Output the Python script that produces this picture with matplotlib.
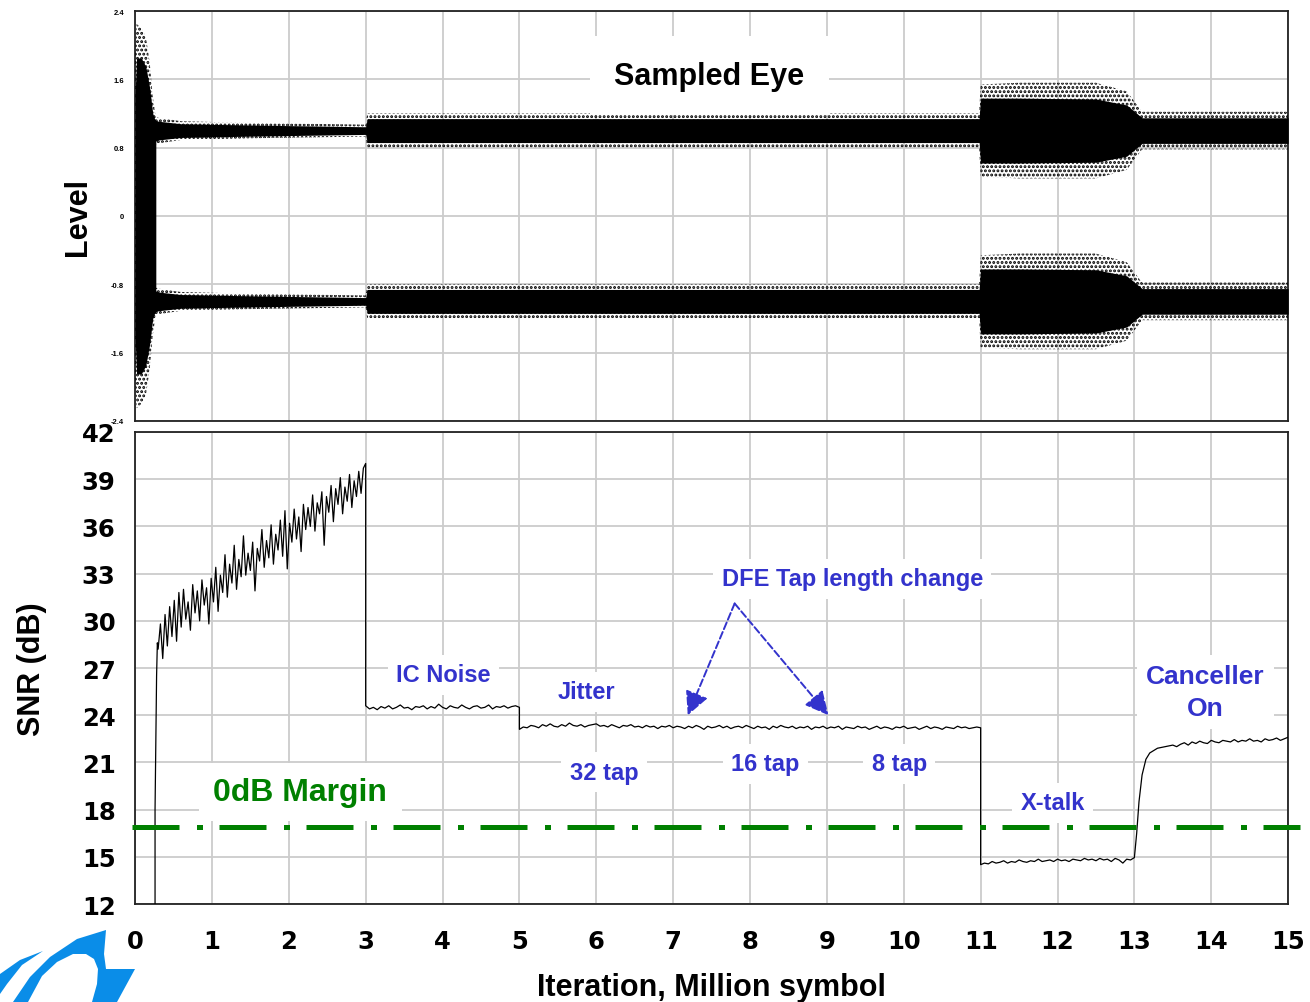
import numpy as np
import matplotlib
matplotlib.use("Agg")
import matplotlib.pyplot as plt
from matplotlib.patches import Polygon

plt.rcParams['font.family'] = ['Liberation Sans', 'DejaVu Sans']
plt.rcParams['font.weight'] = 'bold'
plt.rcParams['hatch.linewidth'] = 1.4

BLUE = '#3333cc'
GREEN = '#008000'
GRID = '#cccccc'

# ---- sampled eye envelopes ----
# start-up burst, half height of the scattered column
burst_x = [0.0, 0.02, 0.08, 0.14, 0.19, 0.23, 0.27]
burst_outer = [1.9, 2.25, 2.2, 2.1, 1.8, 1.4, 1.15]
burst_core = [1.4, 1.85, 1.85, 1.75, 1.5, 1.2, 1.1]

# eye bands around +1 and -1
eye_x = [0.25, 0.3, 0.6, 1.5, 2.98, 3.0, 3.02, 10.98, 11.0, 11.5, 12.5, 12.9, 13.1, 15.0]
eye_core = [0.13, 0.11, 0.08, 0.065, 0.045, 0.045, 0.14, 0.14, 0.38, 0.38, 0.37, 0.3, 0.15, 0.15]
eye_outer = [0.17, 0.15, 0.11, 0.09, 0.07, 0.07, 0.2, 0.2, 0.54, 0.56, 0.56, 0.46, 0.22, 0.22]
eye_levels = [1.0, -1.0]

# ---- SNR trace ----
start_x = [0.26, 0.26, 0.27, 0.28, 0.29]
start_y = [12.0, 18.0, 22.5, 26.5, 28.6]

ramp_y = [28.2, 29.8, 27.6, 30.4, 28.4, 30.9, 29.0, 31.3, 28.7, 31.8,
          29.6, 32.0, 30.1, 31.2, 29.4, 32.3, 30.5, 31.9, 30.0, 32.6,
          31.0, 32.1, 29.8, 32.7, 31.2, 33.4, 30.6, 32.9, 31.8, 34.2,
          31.5, 33.6, 32.4, 34.8, 32.0, 33.9, 32.8, 35.4, 32.9, 34.3,
          33.2, 35.0, 31.9, 34.6, 33.8, 35.8, 33.4, 35.1, 34.0, 36.1,
          33.6, 35.5, 34.5, 36.4, 34.1, 37.0, 33.3, 36.2, 35.0, 37.1,
          35.2, 36.6, 34.4, 37.4, 35.8, 37.2, 36.0, 38.0, 35.7, 37.5,
          36.8, 38.2, 34.8, 37.9, 36.9, 38.6, 36.3, 38.4, 37.4, 39.1,
          36.8, 38.5, 37.6, 39.3, 37.2, 38.9, 37.9, 39.5, 38.1, 39.7]
ramp_x = np.linspace(0.30, 2.97, len(ramp_y))

ic_noise = [24.6, 24.4, 24.5, 24.35, 24.55, 24.45, 24.6, 24.4, 24.5, 24.65,
            24.45, 24.5, 24.35, 24.55, 24.5, 24.6, 24.4, 24.55, 24.45, 24.7,
            24.5, 24.4, 24.6, 24.5, 24.45, 24.65, 24.5, 24.4, 24.55, 24.6,
            24.45, 24.5, 24.65, 24.4, 24.55, 24.5, 24.6, 24.45, 24.55, 24.6, 24.5]
jitter = [23.1, 23.25, 23.2, 23.35, 23.3, 23.2, 23.4, 23.3, 23.45, 23.3,
          23.25, 23.4, 23.3, 23.5, 23.35, 23.3, 23.4, 23.25, 23.35, 23.4,
          23.45, 23.3, 23.35, 23.25, 23.4, 23.3, 23.2, 23.35, 23.3, 23.4,
          23.25, 23.3, 23.2, 23.35, 23.25, 23.3, 23.15, 23.3, 23.25, 23.35,
          23.2, 23.3, 23.25, 23.15, 23.3, 23.2, 23.35, 23.25, 23.1, 23.3,
          23.2, 23.25, 23.35, 23.2, 23.3, 23.15, 23.25, 23.3, 23.2, 23.35,
          23.25, 23.15, 23.3, 23.2, 23.25, 23.1, 23.3, 23.2, 23.35, 23.25,
          23.2, 23.3, 23.15, 23.25, 23.2, 23.3, 23.1, 23.25, 23.2, 23.3,
          23.15, 23.25, 23.2, 23.3, 23.1, 23.25, 23.2, 23.15, 23.3, 23.2,
          23.25, 23.1, 23.2, 23.3, 23.15, 23.25, 23.2, 23.1, 23.25, 23.2,
          23.3, 23.15, 23.2, 23.25, 23.1, 23.2, 23.3, 23.15, 23.25, 23.2,
          23.1, 23.25, 23.2, 23.15, 23.3, 23.2, 23.25, 23.15, 23.2, 23.25, 23.2]
xtalk = [14.5, 14.6, 14.55, 14.7, 14.6, 14.65, 14.75, 14.6, 14.7, 14.65,
         14.8, 14.7, 14.65, 14.75, 14.7, 14.85, 14.7, 14.75, 14.8, 14.7,
         14.85, 14.75, 14.8, 14.7, 14.85, 14.8, 14.75, 14.9, 14.8, 14.85,
         14.75, 14.9, 14.8, 14.85, 14.7, 14.9, 14.8, 14.6, 14.85, 14.8, 14.95]
rise_x = [13.03, 13.06, 13.1, 13.15, 13.2, 13.3, 13.4]
rise_y = [16.5, 18.5, 20.2, 21.2, 21.6, 21.9, 22.0]
cancel = [22.1, 22.0, 22.15, 22.25, 22.1, 22.3, 22.2, 22.35, 22.25, 22.2,
          22.4, 22.3, 22.25, 22.4, 22.35, 22.3, 22.45, 22.3, 22.4, 22.35,
          22.5, 22.35, 22.4, 22.3, 22.5, 22.4, 22.45, 22.55, 22.4, 22.5, 22.6]

margin_db = 16.9

x_ticks = list(range(0, 16))
snr_ticks = list(range(12, 43, 3))
lvl_ticks = [-2.4, -1.6, -0.8, 0, 0.8, 1.6, 2.4]
lvl_labels = ['-2.4', '-1.6', '-0.8', '0', '0.8', '1.6', '2.4']

# build the full SNR trace
snr_x = (start_x + list(ramp_x) + [3.0, 3.0]
         + list(np.linspace(3.0, 5.0, len(ic_noise))) + [5.0]
         + list(np.linspace(5.0, 11.0, len(jitter))) + [11.0]
         + list(np.linspace(11.0, 13.0, len(xtalk))) + rise_x
         + list(np.linspace(13.5, 15.0, len(cancel))))
snr_y = (start_y + ramp_y + [40.0, ic_noise[0]]
         + ic_noise + [jitter[0]]
         + jitter + [xtalk[0]]
         + xtalk + rise_y
         + cancel)

fig = plt.figure(figsize=(13.1, 10.03), dpi=100)
ax1 = fig.add_axes([0.1031, 0.5793, 0.8802, 0.4087])
ax2 = fig.add_axes([0.1031, 0.0977, 0.8802, 0.4706])

# ---- top: sampled eye ----
bx = np.array(burst_x)
ax1.fill_between(bx, -np.array(burst_outer), burst_outer, facecolor='none',
                 edgecolor='black', hatch='....', linewidth=0, zorder=3)
ax1.fill_between(bx, -np.array(burst_core), burst_core, color='black',
                 linewidth=0, zorder=3)
ex = np.array(eye_x)
for lv in eye_levels:
    ax1.fill_between(ex, lv - np.array(eye_outer), lv + np.array(eye_outer),
                     facecolor='none', edgecolor='black', hatch='....',
                     linewidth=0, zorder=3)
    ax1.fill_between(ex, lv - np.array(eye_core), lv + np.array(eye_core),
                     color='black', linewidth=0, zorder=3)

ax1.set_xlim(0, 15)
ax1.set_ylim(-2.4, 2.4)
ax1.set_xticks(x_ticks)
ax1.set_xticklabels([])
ax1.set_yticks(lvl_ticks)
ax1.set_yticklabels(lvl_labels, fontsize=5.5, fontweight='bold')
ax1.tick_params(length=0, pad=8)
ax1.grid(True, color=GRID, linewidth=1.3)
ax1.set_axisbelow(True)
ax1.set_ylabel('Level', fontsize=22, fontweight='bold', labelpad=13)
ax1.text(7.47, 1.64, 'Sampled Eye', fontsize=22, fontweight='bold',
         ha='center', va='center', zorder=4,
         bbox=dict(boxstyle='square,pad=0.8', facecolor='white', edgecolor='none'))

# ---- bottom: SNR ----
ax2.plot(snr_x, snr_y, color='black', linewidth=0.9, zorder=3)
ax2.plot([-0.04, 15.16], [margin_db, margin_db], color=GREEN, linewidth=3.6,
         dashes=(9.4, 3.5, 1.2, 3.3), clip_on=False, zorder=5)

ax2.set_xlim(0, 15)
ax2.set_ylim(12, 42)
ax2.set_xticks(x_ticks)
ax2.set_xticklabels([str(t) for t in x_ticks])
ax2.set_yticks(snr_ticks)
ax2.set_yticklabels([str(t) for t in snr_ticks])
for lab in ax2.get_xticklabels() + ax2.get_yticklabels():
    lab.set_family('DejaVu Sans')
    lab.set_fontweight('bold')
    lab.set_fontsize(17.5)
ax2.tick_params(axis='x', length=0, pad=18)
ax2.tick_params(axis='y', length=0, pad=14)
ax2.grid(True, color=GRID, linewidth=1.3)
ax2.set_axisbelow(True)
ax2.set_ylabel('SNR (dB)', fontsize=22, fontweight='bold', labelpad=25)
ax2.set_xlabel('Iteration, Million symbol', fontsize=22, fontweight='bold', labelpad=14)

for a in (ax1, ax2):
    for s in a.spines.values():
        s.set_linewidth(1.3)
        s.set_color('#222222')

box = dict(boxstyle='square,pad=0.35', facecolor='white', edgecolor='none')
ax2.text(4.01, 26.56, 'IC Noise', color=BLUE, fontsize=17, ha='center', va='center', bbox=box, zorder=4)
ax2.text(5.87, 25.48, 'Jitter', color=BLUE, fontsize=17, ha='center', va='center', bbox=box, zorder=4)
ax2.text(6.10, 20.39, '32 tap', color=BLUE, fontsize=17, ha='center', va='center', bbox=box, zorder=4)
ax2.text(8.20, 20.90, '16 tap', color=BLUE, fontsize=17, ha='center', va='center', bbox=box, zorder=4)
ax2.text(9.94, 20.90, '8 tap', color=BLUE, fontsize=17, ha='center', va='center', bbox=box, zorder=4)
ax2.text(9.33, 32.66, 'DFE Tap length change', color=BLUE, fontsize=17, ha='center', va='center', bbox=box, zorder=4)
ax2.text(11.94, 18.42, 'X-talk', color=BLUE, fontsize=17, ha='center', va='center', bbox=box, zorder=4)
ax2.text(13.92, 25.48, 'Canceller\nOn', color=BLUE, fontsize=19, ha='center', va='center',
         linespacing=1.4, bbox=box, zorder=4)
ax2.text(2.15, 19.12, '0dB Margin', color=GREEN, fontsize=23, ha='center', va='center',
         bbox=dict(boxstyle='square,pad=0.45', facecolor='white', edgecolor='none'), zorder=4)

for tx in (7.19, 9.02):
    ax2.annotate('', xy=(tx, 24.0), xytext=(7.80, 31.1),
                 arrowprops=dict(arrowstyle='-|>', color=BLUE, linestyle='--',
                                 linewidth=1.4, mutation_scale=36,
                                 shrinkA=0, shrinkB=0), zorder=6)

# ---- logo swoosh at bottom left ----
W, H = 1310.0, 1003.0
def px(pts):
    return [(x / W, 1 - y / H) for x, y in pts]

main = [(13, 1003), (30, 978), (50, 958), (77, 940), (106, 931), (104, 955),
        (106, 970), (135, 970), (117, 1003), (92, 1003), (97, 985), (98, 970),
        (94, 960), (86, 955), (73, 955), (57, 963), (42, 977), (28, 1003)]
thin = [(0, 975), (20, 961), (43, 952), (22, 966), (7, 985), (0, 995)]
fig.patches.append(Polygon(px(main), closed=True, transform=fig.transFigure,
                           facecolor='#0a8de8', edgecolor='none'))
fig.patches.append(Polygon(px(thin), closed=True, transform=fig.transFigure,
                           facecolor='#0a8de8', edgecolor='none'))

fig.savefig('out.png', dpi=100)
